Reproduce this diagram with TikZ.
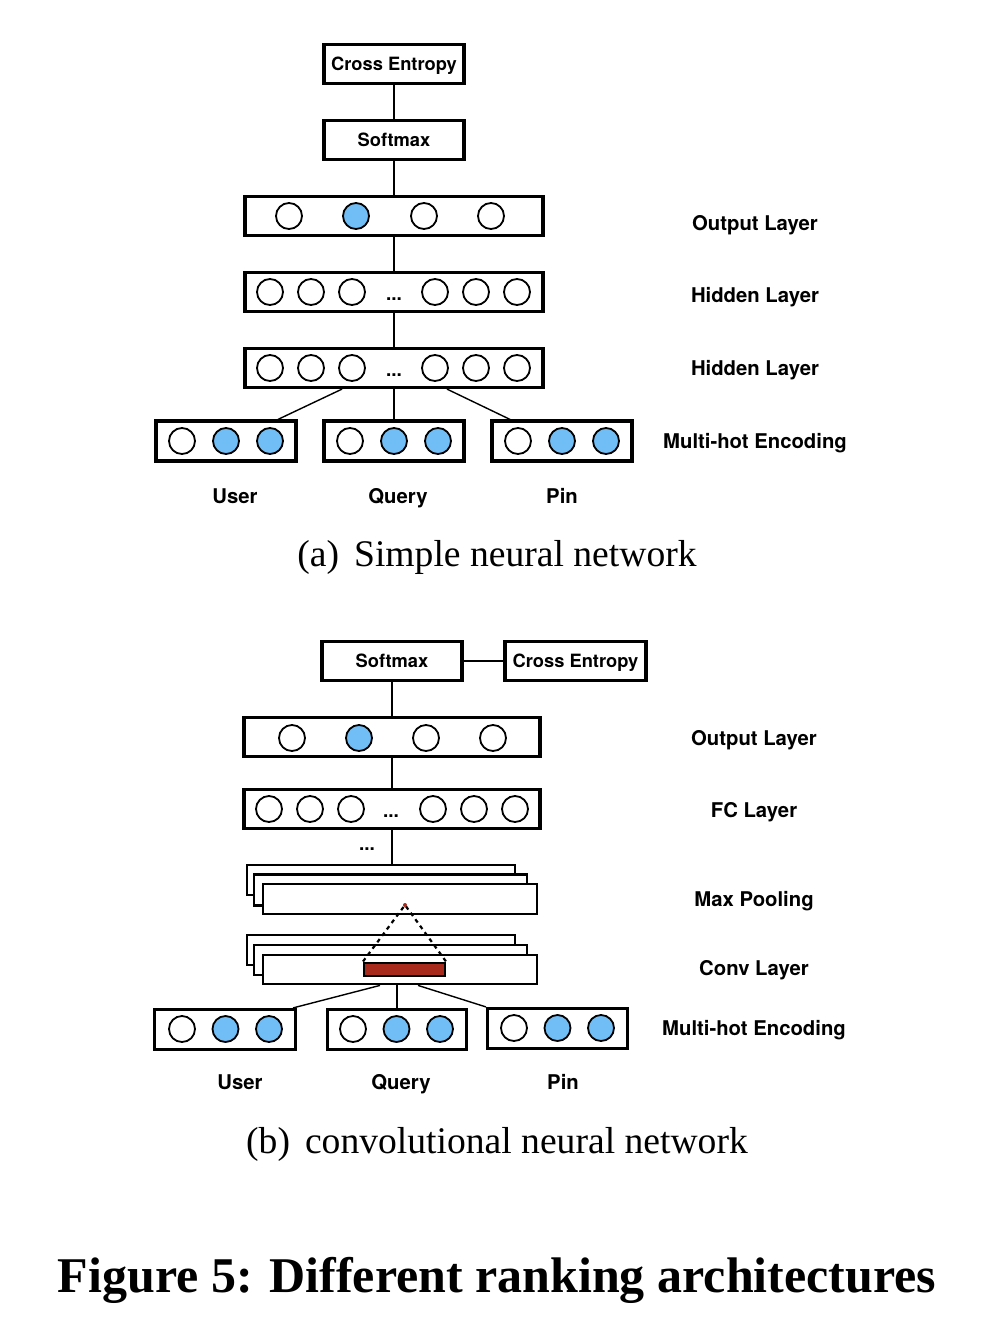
\documentclass[tikz,border=0pt]{standalone}
\usepackage{fontspec}
\newfontfamily\hv{TeX Gyre Heros}
\newfontfamily\capfont{Liberation Serif}
\usetikzlibrary{positioning}
\definecolor{nblue}{RGB}{112,190,245}
\definecolor{kred}{RGB}{168,42,28}
\begin{document}
\begin{tikzpicture}[x=1pt,y=-1pt,
  box/.style={draw, line width=3.2pt, fill=white, inner sep=0pt, text depth=0pt, minimum width=140pt, minimum height=39pt, font=\hv\bfseries\fontsize{18.3}{18.3}\selectfont},
  layer/.style={draw, line width=3.2pt, fill=white, inner sep=0pt, minimum width=298pt, minimum height=39pt},
  inbox/.style={draw, line width=3.2pt, fill=white, inner sep=0pt, minimum width=140pt, minimum height=40pt},
  sheet/.style={draw, line width=2.8pt, fill=white, inner sep=0pt},
  neuron/.style={circle, draw, line width=1.8pt, fill=white, minimum size=26pt, inner sep=0pt},
  on/.style={neuron, fill=nblue},
  lbl/.style={font=\hv\bfseries\fontsize{20.3}{20.3}\selectfont, inner sep=0pt, anchor=base},
  dotsf/.style={font=\hv\bfseries\fontsize{19}{19}\selectfont, inner sep=0pt, anchor=base},
  conn/.style={line width=1.4pt},
  captxt/.style={font=\capfont\fontsize{37.6}{37.6}\selectfont, inner sep=0pt, anchor=base},
]
\useasboundingbox (0,0) rectangle (994,1334);
\fill[white] (0,0) rectangle (994,1334);

% ---------------- panel (a) ----------------
\node[box] (ceA) at (394,64) {Cross Entropy};
\node[box] (smA) at (394,140) {Softmax};
\node[layer] (outA) at (394,216) {};
\node[layer] (h1A) at (394,292) {};
\node[layer] (h2A) at (394,368) {};
\node[inbox] (uA) at (226,441) {};
\node[inbox] (qA) at (394,441) {};
\node[inbox] (pA) at (562,441) {};

\draw[conn] (ceA) -- (smA);
\draw[conn] (smA) -- (outA);
\draw[conn] (outA) -- (h1A);
\draw[conn] (h1A) -- (h2A);
\draw[conn] (h2A.south) -- (qA.north);
\draw[conn] ([xshift=-52pt]h2A.south) -- ([xshift=52pt]uA.north);
\draw[conn] ([xshift=53pt]h2A.south) -- ([xshift=-52pt]pA.north);

\node[neuron] (oA1) at (289,216) {};
\node[on] (oA2) at (356,216) {};
\node[neuron] (oA3) at (424,216) {};
\node[neuron] (oA4) at (491,216) {};

\foreach \y/\n in {292/a,368/b}{
  \node[neuron] (h\n1) at (270,\y) {};
  \node[neuron] (h\n2) at (311,\y) {};
  \node[neuron] (h\n3) at (352,\y) {};
  \node[dotsf] (hd\n) at (394,\y+8) {...};
  \node[neuron] (h\n4) at (435,\y) {};
  \node[neuron] (h\n5) at (476,\y) {};
  \node[neuron] (h\n6) at (517,\y) {};
}

\foreach \x/\n in {182/u,350/q,518/p}{
  \node[neuron] (iA\n1) at (\x,441) {};
  \node[on] (iA\n2) at (\x+44,441) {};
  \node[on] (iA\n3) at (\x+88,441) {};
}

\node[lbl] (tuA) at (235,503) {User};
\node[lbl] (tqA) at (398,503) {Query};
\node[lbl] (tpA) at (562,503) {Pin};

\node[lbl] (rA1) at (755,230.5) {Output Layer};
\node[lbl] (rA2) at (755,302.5) {Hidden Layer};
\node[lbl] (rA3) at (755,375.5) {Hidden Layer};
\node[lbl] (rA4) at (755,448) {Multi-hot Encoding};

\node[captxt] (capA) at (497,566) {(a)\hspace{0.4em}Simple neural network};

% ---------------- panel (b) ----------------
\node[box] (smB) at (392,661) {Softmax};
\node[box, minimum width=141pt] (ceB) at (575.5,661) {Cross Entropy};
\node[layer, minimum width=296pt] (outB) at (392,737) {};
\node[layer, minimum width=296pt] (fcB) at (392,809) {};

\node[sheet, minimum width=268pt, minimum height=30pt] (mp1) at (381,880) {};
\node[sheet, minimum width=273pt, minimum height=31pt] (mp2) at (390.5,890) {};
\node[sheet, minimum width=274pt, minimum height=30pt] (mp3) at (400,899) {};
\node[sheet, minimum width=268pt, minimum height=30pt] (cv1) at (381,950) {};
\node[sheet, minimum width=273pt, minimum height=30pt] (cv2) at (390.5,960) {};
\node[sheet, minimum width=274pt, minimum height=29pt] (cv3) at (400,969.5) {};
\node[draw, line width=2pt, fill=kred, inner sep=0pt, minimum width=81pt, minimum height=13pt] (red) at (404.5,969) {};
\coordinate (apex) at (405,905);
\draw[line width=2.2pt, dash pattern=on 4pt off 4pt] (red.north west) -- (apex) -- (red.north east);
\fill[kred] (apex) circle (2pt);

\node[inbox, minimum width=141pt] (uB) at (225,1029.5) {};
\node[inbox, minimum width=139pt] (qB) at (397,1029.5) {};
\node[inbox, minimum width=140pt] (pB) at (557.5,1028.5) {};

\draw[conn] (smB) -- (ceB);
\draw[conn] (smB) -- (outB);
\draw[conn] (outB) -- (fcB);
\draw[conn] (fcB.south) -- (fcB.south |- mp1.north);
\node[dotsf] (dB) at (367,850) {...};
\draw[conn] ([xshift=-20pt]cv3.south) -- ([xshift=-4pt]uB.north east);
\draw[conn] ([xshift=-3pt]cv3.south) -- (qB.north);
\draw[conn] ([xshift=18pt]cv3.south) -- (pB.north west);

\node[neuron] (oB1) at (292,738) {};
\node[on] (oB2) at (359,738) {};
\node[neuron] (oB3) at (426,738) {};
\node[neuron] (oB4) at (493,738) {};

\node[neuron] (fB1) at (269,809) {};
\node[neuron] (fB2) at (310,809) {};
\node[neuron] (fB3) at (351,809) {};
\node[dotsf] (fBd) at (391,817) {...};
\node[neuron] (fB4) at (433,809) {};
\node[neuron] (fB5) at (474,809) {};
\node[neuron] (fB6) at (515,809) {};

\foreach \x/\y/\n in {182/1029/u,353/1029/q,514/1028/p}{
  \node[neuron] (iB\n1) at (\x,\y) {};
  \node[on] (iB\n2) at (\x+43.5,\y) {};
  \node[on] (iB\n3) at (\x+87,\y) {};
}

\node[lbl] (tuB) at (240,1089) {User};
\node[lbl] (tqB) at (401,1089) {Query};
\node[lbl] (tpB) at (563,1089) {Pin};

\node[lbl] (rB1) at (754,745) {Output Layer};
\node[lbl] (rB2) at (754,817) {FC Layer};
\node[lbl] (rB3) at (754,906) {Max Pooling};
\node[lbl] (rB4) at (754,975) {Conv Layer};
\node[lbl] (rB5) at (754,1035) {Multi-hot Encoding};

\node[captxt] (capB) at (497,1153) {(b)\hspace{0.4em}convolutional neural network};

\node[font=\capfont\bfseries\fontsize{50}{50}\selectfont, inner sep=0pt, anchor=base] (title) at (497,1292) {Figure 5: Different ranking architectures};
\end{tikzpicture}
\end{document}
